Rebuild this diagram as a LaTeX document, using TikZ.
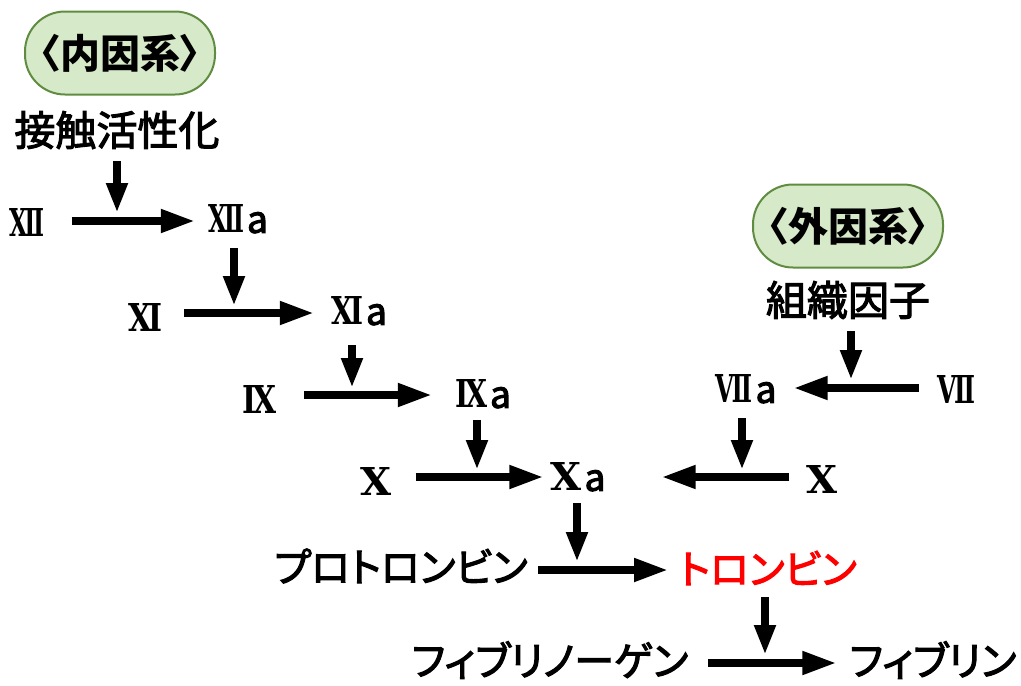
\documentclass[tikz,border=0pt]{standalone}
\usepackage{fontspec}
\usepackage{graphicx}
\usetikzlibrary{arrows.meta}
\newfontfamily\jp{Noto Sans CJK JP}[RawFeature=+palt]
\newfontfamily\romf{DejaVu Serif}
\definecolor{boxfill}{RGB}{214,233,200}
\definecolor{boxline}{RGB}{96,140,66}
\newcommand{\heavy}[1]{\special{pdf:literal direct 2 Tr 1.1 w}#1\special{pdf:literal direct 0 Tr}}
\newcommand{\rn}[3]{\resizebox{#2pt}{#3pt}{\romf\bfseries #1}}
\newcommand{\rna}[3]{\rn{#1}{#2}{#3}\kern3pt{\jp\fontsize{37}{37}\selectfont\heavy{a}}}
\tikzset{
  sysbox/.style={draw=boxline, fill=boxfill, line width=2pt, rounded corners=40pt,
    minimum width=190pt, minimum height=83pt, inner sep=0pt,
    font=\jp\bfseries\fontsize{40}{40}\selectfont},
  jlbl/.style={inner sep=0pt, font=\jp\fontsize{41}{41}\selectfont},
  klbl/.style={inner sep=0pt, font=\jp\fontsize{40}{40}\selectfont},
  num/.style={inner sep=0pt},
  harr/.style={line width=7.5pt, -{Triangle[length=34pt,width=22pt]}},
  varr/.style={line width=7.5pt, -{Triangle[length=30pt,width=20pt]}},
}
\begin{document}
\begin{tikzpicture}[x=1pt,y=-1pt]
\useasboundingbox (0,0) rectangle (1021,686);
% intrinsic
\node[sysbox] (intr) at (120,53) {〈内因系〉};
\node[jlbl] (act) at (117,130) {\heavy{接触活性化}};
\node[num] (f12) at (27,222) {\rn{Ⅻ}{35}{28}};
\node[num] (f12a) at (238,219) {\rna{Ⅻ}{36}{28}};
\node[num] (f11) at (145,317) {\rn{Ⅺ}{34}{28}};
\node[num] (f11a) at (359,311) {\rna{Ⅺ}{32}{28}};
\node[num] (f9) at (260,399) {\rn{Ⅸ}{34}{28}};
\node[num] (f9a) at (483,394) {\rna{Ⅸ}{32}{28}};
\node[num] (f10) at (376,481) {\rn{Ⅹ}{31}{28}};
\node[num] (f10a) at (578,477) {\rna{Ⅹ}{31}{28}};
% extrinsic
\node[sysbox] (extr) at (848,226) {〈外因系〉};
\node[jlbl] (tf) at (848,300) {\heavy{組織因子}};
\node[num] (f7) at (956,389) {\rn{Ⅶ}{38}{28}};
\node[num] (f7a) at (746,389) {\rna{Ⅶ}{37}{28}};
\node[num] (f10r) at (822,479) {\rn{Ⅹ}{31}{28}};
% common
\node[klbl] (pro) at (401,566) {\heavy{プロトロンビン}};
\node[klbl, text=red] (thr) at (768,568) {\heavy{トロンビン}};
\node[klbl] (fbg) at (550,660) {\heavy{フィブリノーゲン}};
\node[klbl] (fib) at (933,660) {\heavy{フィブリン}};
% targets on horizontal arrows
\coordinate (t1) at (117,213);
\coordinate (t2) at (234,306);
\coordinate (t3) at (352,388);
\coordinate (t4) at (477,470);
\coordinate (t5) at (851,380);
\coordinate (t6) at (742,470);
\coordinate (t7) at (577,562);
\coordinate (t8) at (765,655);
% horizontal arrows
\draw[harr] ([xshift=27pt]f12.east |- 0,221) -- ([xshift=-13pt]f12a.west |- 0,221);
\draw[harr] ([xshift=22pt]f11.east |- 0,313) -- ([xshift=-17pt]f11a.west |- 0,313);
\draw[harr] ([xshift=27pt]f9.east |- 0,395) -- ([xshift=-23pt]f9a.west |- 0,395);
\draw[harr] ([xshift=24pt]f10.east |- 0,477) -- ([xshift=-7pt]f10a.west |- 0,477);
\draw[harr] ([xshift=-18pt]f7.west |- 0,388) -- ([xshift=17pt]f7a.east |- 0,388);
\draw[harr] ([xshift=-17pt]f10r.west |- 0,477) -- ([xshift=56pt]f10a.east |- 0,477);
\draw[harr] ([xshift=10pt]pro.east |- 0,570) -- ([xshift=-11pt]thr.west |- 0,570);
\draw[harr] ([xshift=20pt]fbg.east |- 0,663) -- ([xshift=-13pt]fib.west |- 0,663);
% vertical arrows
\draw[varr] (act.south -| t1) ++(0,12) -- (t1);
\draw[varr] (f12a.south -| t2) ++(0,15) -- (t2);
\draw[varr] (f11a.south -| t3) ++(0,20) -- (t3);
\draw[varr] (f9a.south -| t4) ++(0,12) -- (t4);
\draw[varr] (tf.south -| t5) ++(0,12) -- (t5);
\draw[varr] (f7a.south -| t6) ++(0,15) -- (t6);
\draw[varr] (f10a.south -| t7) ++(0,12) -- (t7);
\draw[varr] (thr.south -| t8) ++(0,12) -- (t8);
\end{tikzpicture}
\end{document}
